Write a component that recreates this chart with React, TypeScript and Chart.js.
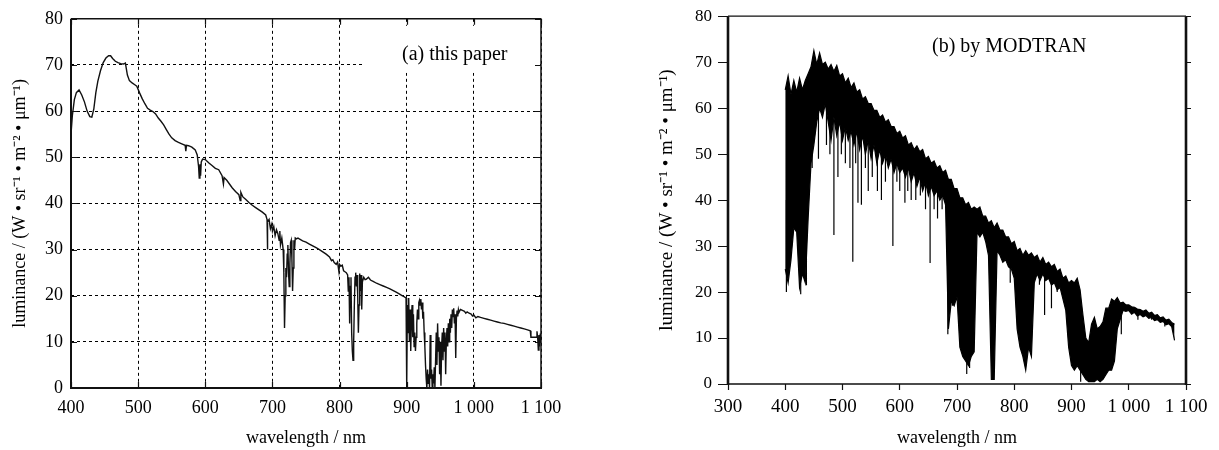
import React, { useEffect, useRef } from 'react';
import { Chart, registerables } from 'chart.js';

Chart.register(...registerables);

const FONT = '"Liberation Serif", "Times New Roman", serif';

// ---------- Left chart: (a) this paper ----------
const leftLegend = '(a) this paper';
const leftXTicks = [400, 500, 600, 700, 800, 900, 1000, 1100];
const leftXTickLabels = ['400', '500', '600', '700', '800', '900', '1 000', '1 100'];
const yTickValues = [0, 10, 20, 30, 40, 50, 60, 70, 80];
const yTickLabels = ['0', '10', '20', '30', '40', '50', '60', '70', '80'];
const yTitle = 'luminance / (W • sr⁻¹ • m⁻² • μm⁻¹)';
const xTitle = 'wavelength / nm';

const leftWavelength = [
  400, 402, 405, 408, 412, 416, 420, 424, 428, 431,
  434, 437, 440, 444, 448, 452, 456, 459, 462, 466,
  470, 474, 478, 481, 484, 487, 491, 495, 498,
  502, 506, 510, 514, 518, 522, 526, 530, 534, 538,
  542, 546, 550, 555, 560, 565, 570, 571, 572, 575,
  580, 585, 588, 590, 591, 592, 593, 594, 596, 600,
  605, 610, 615, 620, 625, 627, 628, 632, 636, 640,
  645, 650, 652, 653, 656, 660, 665, 670, 675, 680,
  685, 690, 692, 692.5, 693, 695, 697, 699, 700,
  702, 704, 706, 708, 710, 711, 712, 714, 716, 717,
  718, 719, 720, 721, 722, 723, 724, 725, 726, 727,
  728, 729, 730, 731, 732, 733, 734, 736, 738, 740,
  745, 750, 755, 760, 765, 770, 775, 780, 785, 788,
  790, 792, 795, 797, 799, 800, 802, 804, 806, 808,
  810, 812,
  813, 814, 815, 816, 817, 818, 819, 820, 821, 822,
  823, 824, 825, 826, 827, 828, 829, 830, 831, 832,
  833, 834, 836, 838, 840, 843, 846, 850, 855, 860,
  865, 870, 875, 880, 885, 890, 893, 896, 899,
  900, 901, 902, 903, 904, 905, 906, 907, 908, 909,
  910, 911, 912, 913, 914, 915, 916, 917, 918, 919,
  920, 921, 922, 923, 924, 925, 926, 927, 928, 929,
  930, 931, 932, 933, 934, 935, 936, 937, 938, 939,
  940, 941, 942, 943,
  944, 945, 946, 947, 948, 949, 950, 951, 952, 953,
  954, 955, 956, 957, 958, 959, 960, 961, 962, 963,
  964, 965, 966, 967, 968, 969, 970, 971, 972, 973,
  974, 975, 976, 977, 978,
  980, 983, 986, 988, 990, 993, 996, 998, 1000, 1003,
  1006, 1010, 1015, 1020, 1025, 1030, 1035, 1040, 1045, 1050,
  1055, 1060, 1065, 1070, 1075, 1080, 1084, 1085, 1093, 1094,
  1095, 1096, 1097, 1098, 1099, 1100,
];
const leftLuminance = [
  55, 59, 62.5, 64, 64.6, 63.5, 62, 60, 58.8, 58.7,
  60.5, 64, 66.5, 68.8, 70.5, 71.5, 72, 72, 71.4, 70.8,
  70.5, 70.3, 70.2, 70.4, 67.8, 66.6, 66.1, 65.7, 65.4,
  64, 62.7, 61.6, 60.6, 60.2, 59.9, 59.4, 58.5, 57.8, 57,
  56, 55, 54.2, 53.6, 53.2, 52.9, 52.6, 51.3, 52.6, 52.5,
  52.2, 51.6, 50.5, 48, 45.5, 48.5, 46, 49, 49.6, 49.5,
  48.8, 48.2, 47.6, 47.3, 46, 44.2, 45.6, 45, 44.2, 43.4,
  42.6, 41.9, 40.6, 42.4, 41.4, 40.9, 40.2, 39.6, 39.1, 38.6,
  38.1, 37.5, 36.5, 30, 36, 36.5, 34.5, 35.5, 34,
  35, 33, 34.3, 33.5, 32, 34, 31, 32.5, 30, 25,
  13, 20, 26, 24, 29, 31, 25, 22, 27, 31.5,
  32, 28, 21, 26, 32, 30, 32.5, 32.3, 32.5, 32.3,
  31.9, 31.6, 31.2, 30.8, 30.4, 30, 29.5, 29, 28.4, 27.6,
  27.8, 27.2, 26.8, 27.3, 25.2, 26.8, 26.4, 26.6, 25.4, 25.2,
  25, 24.5,
  21, 24, 14, 22, 24, 12, 8, 6, 10, 18,
  24, 25, 22, 24.5, 20, 12, 18, 24.8, 21, 24.5,
  17, 23, 24, 23.5, 23.6, 24, 23.4, 23.1, 22.7, 22.4,
  22.1, 21.8, 21.5, 21.1, 20.7, 20.3, 20, 19.8, 19.5,
  0, 18, 12, 19.5, 10, 17, 8, 15, 18, 11,
  16, 9, 12, 8, 11, 14, 17, 15, 18.5, 19,
  18, 19.3, 17, 18.5, 15, 16.5, 12, 9, 5, 2,
  0, 4, 1, 3, 0, 11.5, 2, 4, 0, 3,
  1, 4.5, 0, 6,
  12, 5, 14, 8, 11, 3, 10, 0.5, 9, 12,
  6, 13, 8, 12, 3, 10, 13, 9, 14, 10,
  15, 12, 16, 13, 17, 15.5, 17.3, 14, 16, 6.5,
  15, 16.8, 15.5, 17, 16.4,
  17, 16.8, 16.6, 16.2, 16.5, 16.2, 16, 15.6, 15.8, 15.2,
  15.5, 15.3, 15.1, 14.9, 14.7, 14.5, 14.3, 14.1, 14, 13.8,
  13.6, 13.4, 13.2, 13, 12.8, 12.6, 12.4, 11, 11, 12.3,
  11, 8.2, 11.5, 9, 11.8, 10,
];

// ---------- Right chart: (b) by MODTRAN ----------
const rightLegend = '(b) by MODTRAN';
const rightXTicks = [300, 400, 500, 600, 700, 800, 900, 1000, 1100];
const rightXTickLabels = ['300', '400', '500', '600', '700', '800', '900', '1 000', '1 100'];

const modWavelength = [
  400, 405, 410, 415, 420, 425, 430, 435, 440, 445,
  450, 455, 460, 465, 470, 475, 480, 485, 490, 495,
  500, 505, 510, 515, 520, 525, 530, 535, 540, 545,
  550, 555, 560, 565, 570, 575, 580, 585, 590, 595,
  600, 605, 610, 615, 620, 625, 630, 635, 640, 645,
  650, 655, 660, 665, 670, 675, 680, 685, 690, 695,
  700, 705, 710, 715, 720, 725, 730, 735, 740, 745,
  750, 755, 760, 765, 770, 775, 780, 785, 790, 795,
  800, 805, 810, 815, 820, 825, 830, 835, 840, 845,
  850, 855, 860, 865, 870, 875, 880, 885, 890, 895,
  900, 905, 910, 915, 920, 925, 930, 935, 940, 945,
  950, 955, 960, 965, 970, 975, 980, 985, 990, 995,
  1000, 1005, 1010, 1015, 1020, 1025, 1030, 1035, 1040, 1045,
  1050, 1055, 1060, 1065, 1070, 1075, 1080,
];
// upper edge of the dense absorption spectrum
const modUpper = [
  64, 67, 63, 66, 63.5, 66.5, 64, 66, 67.5, 69,
  72.5, 69.5, 72, 69.5, 70, 68.5, 69.5, 68, 69.3, 67,
  67.5, 65.5, 66.5, 64.5, 65.5, 63.5, 64, 62, 62.5, 61,
  61, 59.5, 59.5, 58, 58.5, 57, 57.5, 56, 56, 54.5,
  55, 53.5, 54, 52, 52.5, 51, 51.8, 50.5, 51, 49,
  49.5, 48, 48.5, 47, 47.5, 46, 46.5, 44.5, 44.5, 42.5,
  42.5, 40.5, 40.5, 39, 39.5, 38, 38.5, 38, 38.5, 36.5,
  36.5, 35, 35.5, 34, 35, 33.5, 33.5, 32, 32, 30.5,
  31, 29, 29.5, 28, 29, 28, 28.5, 27.5, 28, 26.5,
  27.5, 26, 26.5, 25.5, 26, 24.5, 25, 23, 23.5, 22,
  22.5, 22, 23, 20.5, 15, 10, 9, 13, 14.5, 12,
  12.5, 13.5, 16.5, 16.5, 18.5, 18, 18.8, 17.6, 17.8, 17.2,
  17.2, 16.8, 16.7, 16.3, 16.2, 15.8, 16.1, 15.4, 15.6, 14.9,
  15.1, 14.4, 14.6, 13.9, 14.1, 13.4, 13,
];
// lower edge of the solid black band
const modLower = [
  25, 22, 27, 34, 33, 21, 24, 22, 36, 48,
  52, 57, 60, 58, 61, 57, 53, 58, 54, 57,
  53, 56, 53, 55, 52, 55, 51, 54, 50, 53,
  49, 52, 48, 51, 48, 50, 47, 49, 46, 48,
  46, 47, 45, 47, 44, 46, 43, 45, 42, 44,
  41, 43, 41, 42, 40, 41, 39, 12, 18, 17,
  19, 8, 6, 5, 4, 6, 7, 33, 32, 33,
  31, 28, 1, 1, 29, 28, 26.5, 27, 25.5, 25,
  23, 12, 8, 6, 3, 8, 6, 22, 24, 22.5,
  24, 22.5, 23, 21.5, 22, 20.5, 21, 18.5, 16, 8,
  4, 3, 4, 3, 2, 1, 0.5, 0.5, 0.5, 1,
  0.5, 1, 2, 3, 3, 5, 12, 14, 16, 15.8,
  16, 15.2, 15.6, 14.8, 15.1, 14.6, 14.9, 14.3, 14.5, 13.8,
  14, 13.4, 13.6, 12.9, 13.1, 12.5, 9.5,
];
// narrow absorption lines reaching below the band
const spikeWavelength = [
  402, 427, 437, 447, 458, 472, 478, 485, 492, 498,
  505, 513, 518, 523, 527, 533, 540, 545, 552, 561,
  568, 575, 588, 595, 600, 609, 614, 620, 628, 636,
  645, 653, 660, 666, 674, 684, 692, 717, 722, 793,
  844, 853, 865, 875, 916, 987, 1016, 1040, 1063,
];
const spikeLow = [
  20, 19.5, 21.5, 47, 49, 52, 50, 32.4, 45, 50,
  48, 47, 26.6, 48, 39.4, 39, 47, 42, 45, 42,
  40, 44, 30, 44, 42, 39.4, 42, 40, 40, 41,
  38, 26.3, 38, 36, 38, 10.8, 17, 2.2, 3.5, 22,
  21.6, 15, 16.5, 20, 0.5, 10.8, 14, 14, 12.5,
];
const spikeHigh = [
  40, 36, 36, 60, 62, 61, 60, 57, 58, 57,
  56, 56, 55, 55, 55, 54, 52, 53, 52, 50,
  50, 50, 50, 49, 48, 48, 47, 47, 46, 45,
  45, 44, 43, 42, 42, 42, 30, 10, 10, 27,
  25, 25, 24, 23, 5, 15, 16, 15.5, 14,
];

const INK = '#111';

function tickLabel(values: number[], labels: string[]) {
  return (v: any) => {
    const i = values.indexOf(Number(v));
    return i >= 0 ? labels[i] : '';
  };
}

const leftFrame = {
  id: 'leftFrame',
  beforeDatasetsDraw(chart: any) {
    const { ctx, chartArea: a } = chart;
    ctx.save();
    ctx.fillStyle = '#fff';
    ctx.fillRect(a.left + 294, a.top + 7, a.right - 1 - (a.left + 294), 47);
    ctx.fillStyle = '#000';
    ctx.font = `20px ${FONT}`;
    ctx.textBaseline = 'middle';
    ctx.textAlign = 'left';
    ctx.fillText(leftLegend, a.left + 331, a.top + 36);
    ctx.restore();
  },
  afterDraw(chart: any) {
    const { ctx, chartArea: a, scales } = chart;
    ctx.save();
    ctx.strokeStyle = INK;
    ctx.setLineDash([]);
    ctx.lineWidth = 1.2;
    ctx.beginPath();
    leftXTicks.forEach((t) => {
      const x = Math.round(scales.x.getPixelForValue(t)) + 0.5;
      ctx.moveTo(x, a.top); ctx.lineTo(x, a.top + 6);
      ctx.moveTo(x, a.bottom); ctx.lineTo(x, a.bottom - 6);
    });
    yTickValues.forEach((t) => {
      const y = Math.round(scales.y.getPixelForValue(t)) + 0.5;
      ctx.moveTo(a.left, y); ctx.lineTo(a.left + 6, y);
      ctx.moveTo(a.right, y); ctx.lineTo(a.right - 6, y);
    });
    ctx.stroke();
    ctx.lineWidth = 1.5;
    ctx.beginPath();
    ctx.moveTo(a.left, a.top); ctx.lineTo(a.right, a.top);
    ctx.moveTo(a.right, a.top); ctx.lineTo(a.right, a.bottom);
    ctx.stroke();
    ctx.lineWidth = 2;
    ctx.beginPath();
    ctx.moveTo(a.left, a.top); ctx.lineTo(a.left, a.bottom);
    ctx.moveTo(a.left - 1, a.bottom); ctx.lineTo(a.right + 1, a.bottom);
    ctx.stroke();
    ctx.restore();
  },
};

const rightFrame = {
  id: 'rightFrame',
  afterDraw(chart: any) {
    const { ctx, chartArea: a, scales } = chart;
    ctx.save();
    ctx.strokeStyle = INK;
    ctx.setLineDash([]);
    ctx.lineWidth = 1;
    ctx.beginPath();
    yTickValues.forEach((t) => {
      const y = Math.round(scales.y.getPixelForValue(t)) + 0.5;
      ctx.moveTo(a.right, y); ctx.lineTo(a.right + 5, y);
    });
    ctx.stroke();
    ctx.lineWidth = 1.3;
    ctx.beginPath();
    ctx.moveTo(a.left, a.top); ctx.lineTo(a.right, a.top);
    ctx.moveTo(a.left, a.bottom); ctx.lineTo(a.right, a.bottom);
    ctx.stroke();
    ctx.lineWidth = 2.6;
    ctx.beginPath();
    ctx.moveTo(a.left, a.top); ctx.lineTo(a.left, a.bottom + 1);
    ctx.moveTo(a.right, a.top); ctx.lineTo(a.right, a.bottom + 1);
    ctx.stroke();
    ctx.fillStyle = '#000';
    ctx.font = `20px ${FONT}`;
    ctx.textBaseline = 'middle';
    ctx.textAlign = 'left';
    ctx.fillText(rightLegend, a.left + 204, a.top + 31);
    ctx.restore();
  },
};

function leftConfig(): any {
  return {
    type: 'line',
    data: {
      datasets: [
        {
          data: leftWavelength.map((w, i) => ({ x: w, y: leftLuminance[i] })),
          borderColor: INK,
          borderWidth: 1.4,
          pointRadius: 0,
          tension: 0,
          fill: false,
        },
      ],
    },
    options: {
      responsive: false,
      animation: false,
      layout: { padding: { left: 0, top: 14, right: 59, bottom: 0 } },
      plugins: { legend: { display: false }, tooltip: { enabled: false } },
      scales: {
        x: {
          type: 'linear',
          min: 400,
          max: 1100,
          afterFit: (s: any) => { s.height = 62; },
          ticks: {
            stepSize: 100,
            autoSkip: false,
            maxRotation: 0,
            padding: 9,
            color: '#000',
            font: { family: FONT, size: 18 },
            callback: tickLabel(leftXTicks, leftXTickLabels),
          },
          grid: { color: '#000', lineWidth: 1, drawTicks: false },
          border: { display: false, dash: [3, 3] },
          title: {
            display: true,
            text: xTitle,
            color: '#000',
            font: { family: FONT, size: 18 },
            padding: { top: 0, bottom: 1 },
          },
        },
        y: {
          type: 'linear',
          min: 0,
          max: 80,
          afterFit: (s: any) => { s.width = 71; },
          ticks: {
            stepSize: 10,
            padding: 8,
            color: '#000',
            font: { family: FONT, size: 18 },
            callback: tickLabel(yTickValues, yTickLabels),
          },
          grid: { color: '#000', lineWidth: 1, drawTicks: false },
          border: { display: false, dash: [3, 3] },
          title: {
            display: true,
            text: yTitle,
            color: '#000',
            font: { family: FONT, size: 18 },
            padding: { top: 9, bottom: 0 },
          },
        },
      },
    },
    plugins: [leftFrame],
  };
}

function rightConfig(): any {
  const spikePoints: any[] = [];
  spikeWavelength.forEach((w, i) => {
    spikePoints.push({ x: w, y: spikeHigh[i] });
    spikePoints.push({ x: w, y: spikeLow[i] });
    spikePoints.push({ x: w, y: null });
  });
  return {
    type: 'line',
    data: {
      datasets: [
        {
          data: modWavelength.map((w, i) => ({ x: w, y: modUpper[i] })),
          borderColor: '#000',
          borderWidth: 1.2,
          pointRadius: 0,
          tension: 0,
          fill: false,
        },
        {
          data: modWavelength.map((w, i) => ({ x: w, y: modLower[i] })),
          borderColor: '#000',
          backgroundColor: '#000',
          borderWidth: 1.2,
          pointRadius: 0,
          tension: 0,
          fill: '-1',
        },
        {
          data: spikePoints,
          borderColor: '#000',
          borderWidth: 1.2,
          pointRadius: 0,
          tension: 0,
          spanGaps: false,
          fill: false,
        },
      ],
    },
    options: {
      responsive: false,
      animation: false,
      layout: { padding: { left: 40, top: 12, right: 33, bottom: 0 } },
      plugins: { legend: { display: false }, tooltip: { enabled: false } },
      scales: {
        x: {
          type: 'linear',
          min: 300,
          max: 1100,
          afterFit: (s: any) => { s.height = 66; },
          ticks: {
            stepSize: 100,
            autoSkip: false,
            maxRotation: 0,
            padding: 6,
            color: '#000',
            font: { family: FONT, size: 19 },
            callback: tickLabel(rightXTicks, rightXTickLabels),
          },
          grid: { drawOnChartArea: false, drawTicks: true, tickLength: 6, tickColor: INK, tickWidth: 1.2 },
          border: { display: false },
          title: {
            display: true,
            text: xTitle,
            color: '#000',
            font: { family: FONT, size: 18 },
            padding: { top: 0, bottom: 1 },
          },
        },
        y: {
          type: 'linear',
          min: 0,
          max: 80,
          afterFit: (s: any) => { s.width = 78; },
          ticks: {
            stepSize: 10,
            padding: 6,
            color: '#000',
            font: { family: FONT, size: 17 },
            callback: tickLabel(yTickValues, yTickLabels),
          },
          grid: { drawOnChartArea: false, drawTicks: true, tickLength: 10, tickColor: INK, tickWidth: 1 },
          border: { display: false },
          title: {
            display: true,
            text: yTitle,
            color: '#000',
            font: { family: FONT, size: 19 },
            padding: { top: 6, bottom: 0 },
          },
        },
      },
    },
    plugins: [rightFrame],
  };
}

export default function App() {
  const leftRef = useRef<HTMLCanvasElement>(null);
  const rightRef = useRef<HTMLCanvasElement>(null);
  useEffect(() => {
    const c1 = new Chart(leftRef.current as HTMLCanvasElement, leftConfig());
    const c2 = new Chart(rightRef.current as HTMLCanvasElement, rightConfig());
    return () => {
      c1.destroy();
      c2.destroy();
    };
  }, []);
  return (
    <div style={{ position: 'absolute', left: 0, top: 0, width: 1219, height: 450, background: '#fff', overflow: 'hidden' }}>
      <canvas ref={leftRef} width={600} height={450} style={{ position: 'absolute', left: 0, top: 0 }} />
      <canvas ref={rightRef} width={609} height={450} style={{ position: 'absolute', left: 610, top: 0 }} />
    </div>
  );
}
